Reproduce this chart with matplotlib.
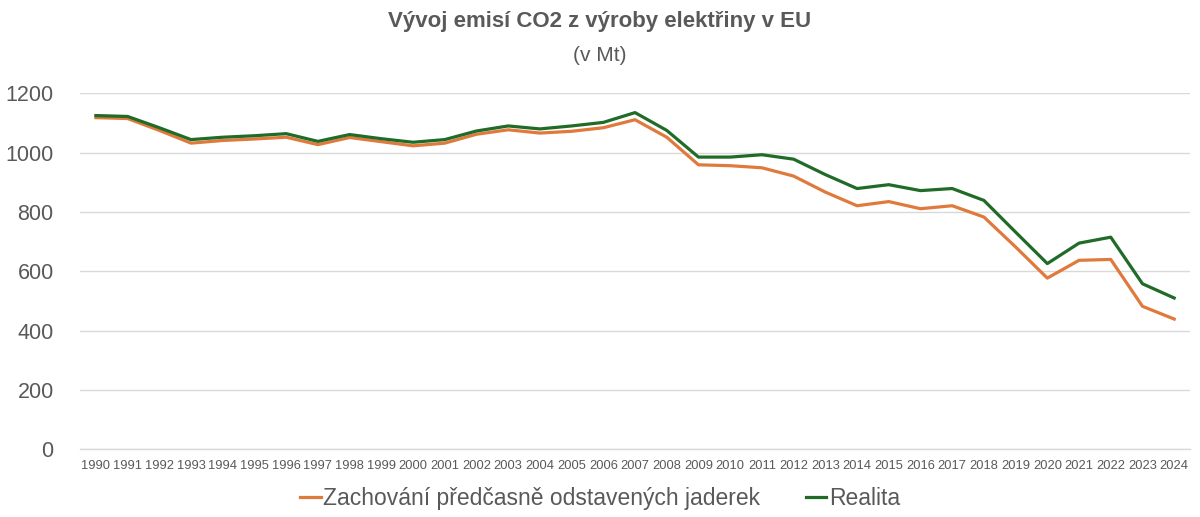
import matplotlib
matplotlib.use("Agg")
import matplotlib.pyplot as plt

# data (Mt CO2)
years = list(range(1990, 2025))
zachovani = [1118, 1115, 1075, 1032, 1041, 1046, 1052, 1027, 1051, 1037,
             1023, 1032, 1062, 1077, 1066, 1072, 1084, 1111, 1052, 959,
             956, 949, 921, 867, 821, 835, 811, 821, 783, 682,
             577, 637, 640, 482, 439]
realita = [1125, 1122, 1084, 1044, 1052, 1057, 1064, 1038, 1061, 1047,
           1035, 1044, 1073, 1090, 1080, 1090, 1102, 1135, 1075, 985,
           985, 993, 978, 926, 879, 892, 872, 879, 839, 732,
           626, 695, 715, 558, 510]
yticks = [0, 200, 400, 600, 800, 1000, 1200]

main = "Liberation Sans"
grey = "#595959"

fig = plt.figure(figsize=(12, 5.17), dpi=100)
ax = fig.add_axes([0.0667, 0.131, 0.925, 0.6885])

x = list(range(len(years)))
ax.plot(x, zachovani, color="#E07A3C", lw=2.3, label="Zachování předčasně odstavených jaderek",
        solid_joinstyle="round")
ax.plot(x, realita, color="#1F6B27", lw=2.3, label="Realita", solid_joinstyle="round")

ax.set_xlim(-0.5, len(years) - 0.5)
ax.set_ylim(0, 1200)
ax.set_yticks(yticks)
ax.set_yticklabels([str(v) for v in yticks], fontsize=15.5, color=grey, family=main)
ax.set_xticks(x)
ax.set_xticklabels([str(y) for y in years], fontsize=9.3, color=grey, family=main)
ax.tick_params(axis="both", length=0)
ax.tick_params(axis="y", pad=19)
ax.tick_params(axis="x", pad=8)

ax.grid(axis="y", color="#D9D9D9", lw=1)
ax.set_axisbelow(True)
for s in ["top", "right", "left"]:
    ax.spines[s].set_visible(False)
ax.spines["bottom"].set_color("#D9D9D9")
ax.spines["bottom"].set_linewidth(1)

fig.text(0.5, 0.958, "Vývoj emisí CO2 z výroby elektřiny v EU", ha="center", va="center",
         fontsize=16, fontweight="bold", color=grey, family=main)
fig.text(0.5, 0.893, "(v Mt)", ha="center", va="center", fontsize=15, color=grey, family=main)

leg = fig.legend(loc="center", bbox_to_anchor=(0.5, 0.035), ncol=2, frameon=False,
                 prop={"family": main, "size": 16.5}, handlelength=0.9, handletextpad=0.1,
                 columnspacing=2.0)
for t in leg.get_texts():
    t.set_color(grey)

fig.savefig("out.png", dpi=100)
